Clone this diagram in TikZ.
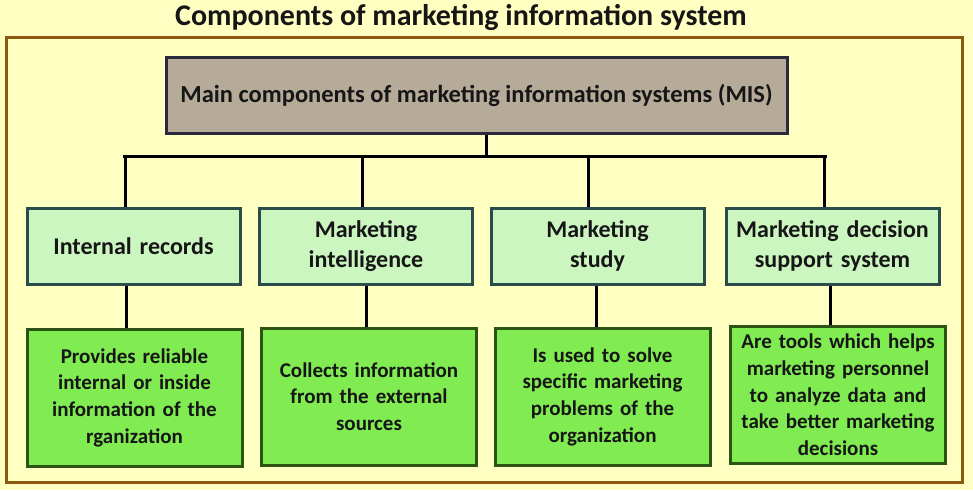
\documentclass[tikz,border=0pt]{standalone}
\usepackage{fontspec}
\setmainfont{Carlito}
\definecolor{bgyellow}{HTML}{FFFFC2}
\definecolor{framebrown}{HTML}{8A5A12}
\definecolor{mainfill}{HTML}{B6AB99}
\definecolor{mainborder}{HTML}{2A2A3C}
\definecolor{lightgreen}{HTML}{CCF6C0}
\definecolor{lgborder}{HTML}{2C4C4C}
\definecolor{brightgreen}{HTML}{80EC52}
\definecolor{bgborder}{HTML}{2C5414}
\definecolor{txt}{HTML}{161616}
\tikzset{
  mainbox/.style={draw=mainborder, fill=mainfill, line width=3pt, rectangle, inner sep=0pt,
    minimum width=621pt, minimum height=76pt, font=\bfseries\fontsize{24.5}{28}\selectfont, text=txt},
  compbox/.style={draw=lgborder, fill=lightgreen, line width=3pt, rectangle, inner sep=0pt,
    minimum width=213pt, minimum height=76pt, align=center, text width=210pt,
    font=\bfseries\fontsize{24}{30}\selectfont, text=txt},
  descbox/.style={draw=bgborder, fill=brightgreen, line width=3pt, rectangle, inner sep=0pt,
    minimum width=215pt, minimum height=137pt, align=center, text width=212pt,
    font=\bfseries\fontsize{21}{26.7}\selectfont, text=txt},
  link/.style={draw=black, line width=3pt},
}
\begin{document}
\begin{tikzpicture}[x=1pt,y=-1pt]
\useasboundingbox (0,0) rectangle (973,490);
\fill[bgyellow] (0,0) rectangle (973,490);
\draw[framebrown, line width=3pt] (6,37) rectangle (962,482);
\node[font=\bfseries\fontsize{30}{34}\selectfont, text=txt] (title) at (461,17) {Components of marketing information system};

\node[mainbox] (main) at (476.5,95) {Main components of marketing information systems (MIS)};

\node[compbox] (c1) at (133.5,246) {Internal records};
\node[compbox] (c2) at (366,246) {Marketing\\intelligence};
\node[compbox] (c3) at (597.5,246) {Marketing\\study};
\node[compbox] (c4) at (832.5,246) {Marketing decision\\support system};

\node[descbox] (d1) at (134.5,397.5) {Provides reliable\\internal or inside\\information of the\\rganization};
\node[descbox] (d2) at (369,396.5) {Collects information\\from the external\\sources};
\node[descbox] (d3) at (602.5,396.5) {Is used to solve\\specific marketing\\problems of the\\organization};
\node[descbox] (d4) at (838,395) {Are tools which helps\\marketing personnel\\to analyze data and\\take better marketing\\decisions};

\coordinate (hub) at (486,156);
\coordinate (busL) at (123,156);
\coordinate (busR) at (827,156);
\coordinate (j1) at (125,156);
\coordinate (j2) at (362,156);
\coordinate (j3) at (588,156);
\coordinate (j4) at (824,156);

\draw[link] (main.south -| hub) -- (hub);
\draw[link] (busL) -- (busR);
\draw[link] (j1) -- (j1 |- c1.north);
\draw[link] (j2) -- (j2 |- c2.north);
\draw[link] (j3) -- (j3 |- c3.north);
\draw[link] (j4) -- (j4 |- c4.north);

\coordinate (k1) at (126,0);
\coordinate (k2) at (366,0);
\coordinate (k3) at (596,0);
\coordinate (k4) at (830,0);
\draw[link] (k1 |- c1.south) -- (k1 |- d1.north);
\draw[link] (k2 |- c2.south) -- (k2 |- d2.north);
\draw[link] (k3 |- c3.south) -- (k3 |- d3.north);
\draw[link] (k4 |- c4.south) -- (k4 |- d4.north);
\end{tikzpicture}
\end{document}
